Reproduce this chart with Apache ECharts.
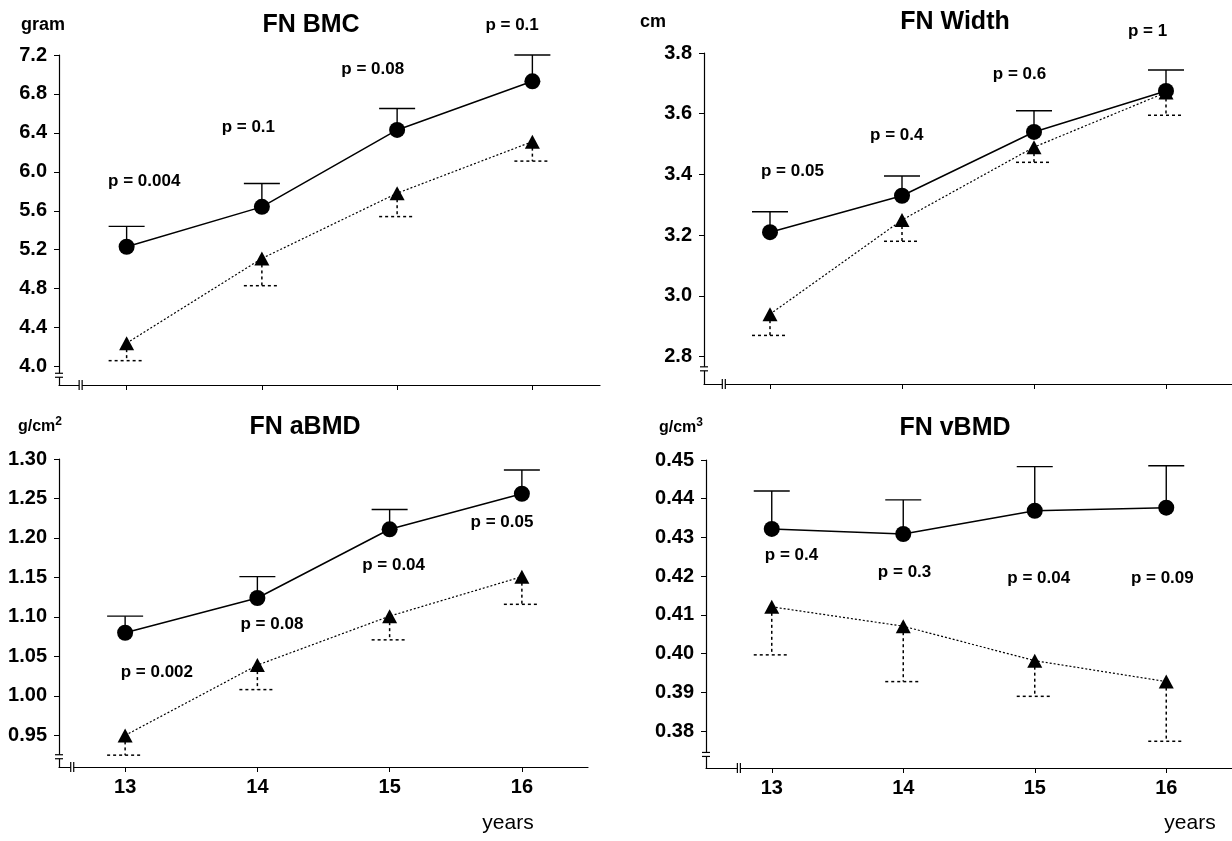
<!DOCTYPE html>
<html>
<head>
<meta charset="utf-8">
<script src="https://cdn.jsdelivr.net/npm/echarts@6/dist/echarts.min.js"></script>
<style>
  html, body { margin: 0; padding: 0; background: #fff; }
  #chart { width: 1232px; height: 841px; }
</style>
</head>
<body>
<div id="chart"></div>
<script>
// ages (x axis)
var years = [13, 14, 15, 16];

// FN BMC, gram
var bmcCircle = [5.23, 5.64, 6.43, 6.93];
var bmcCircleUp = [5.44, 5.88, 6.65, 7.20];
var bmcTriangle = [4.24, 5.11, 5.78, 6.31];
var bmcTriangleLow = [4.06, 4.83, 5.54, 6.11];
var bmcP = ['p = 0.004', 'p = 0.1', 'p = 0.08', 'p = 0.1'];
var bmcTicks = [4.0, 4.4, 4.8, 5.2, 5.6, 6.0, 6.4, 6.8, 7.2];

// FN Width, cm
var widthCircle = [3.21, 3.33, 3.54, 3.675];
var widthCircleUp = [3.277, 3.395, 3.61, 3.744];
var widthTriangle = [2.94, 3.25, 3.49, 3.67];
var widthTriangleLow = [2.87, 3.18, 3.44, 3.595];
var widthP = ['p = 0.05', 'p = 0.4', 'p = 0.6', 'p = 1'];
var widthTicks = [2.8, 3.0, 3.2, 3.4, 3.6, 3.8];

// FN aBMD, g/cm2
var abmdCircle = [1.080, 1.124, 1.211, 1.256];
var abmdCircleUp = [1.101, 1.151, 1.236, 1.286];
var abmdTriangle = [0.950, 1.039, 1.101, 1.151];
var abmdTriangleLow = [0.925, 1.008, 1.071, 1.116];
var abmdP = ['p = 0.002', 'p = 0.08', 'p = 0.04', 'p = 0.05'];
var abmdTicks = [0.95, 1.00, 1.05, 1.10, 1.15, 1.20, 1.25, 1.30];

// FN vBMD, g/cm3
var vbmdCircle = [0.4322, 0.4309, 0.4369, 0.4377];
var vbmdCircleUp = [0.4420, 0.4397, 0.4483, 0.4485];
var vbmdTriangle = [0.4121, 0.4071, 0.3982, 0.3928];
var vbmdTriangleLow = [0.3997, 0.3928, 0.3890, 0.3774];
var vbmdP = ['p = 0.4', 'p = 0.3', 'p = 0.04', 'p = 0.09'];
var vbmdTicks = [0.38, 0.39, 0.40, 0.41, 0.42, 0.43, 0.44, 0.45];

var FONT = "'Liberation Sans', Arial, Helvetica, sans-serif";

// one config per panel
var panels = [
  { grid: {left: 59, top: 55, right: 632, bottom: 456}, min: 3.81, max: 7.2, ticks: bmcTicks, dec: 1,
    circle: bmcCircle, up: bmcCircleUp, tri: bmcTriangle, low: bmcTriangleLow, p: bmcP,
    pAt: [[13.13, 5.90], [13.90, 6.46], [14.82, 7.05], [15.85, 7.50]],
    brk: [12.66, 3.91], xLabels: false },
  { grid: {left: 704, top: 53, right: -12, bottom: 457}, min: 2.71, max: 3.8, ticks: widthTicks, dec: 1,
    circle: widthCircle, up: widthCircleUp, tri: widthTriangle, low: widthTriangleLow, p: widthP,
    pAt: [[13.17, 3.41], [13.96, 3.53], [14.89, 3.73], [15.86, 3.87]],
    brk: [12.65, 2.76], xLabels: false },
  { grid: {left: 59, top: 459, right: 644, bottom: 74}, min: 0.91, max: 1.30, ticks: abmdTicks, dec: 2,
    circle: abmdCircle, up: abmdCircleUp, tri: abmdTriangle, low: abmdTriangleLow, p: abmdP,
    pAt: [[13.24, 1.030], [14.11, 1.091], [15.03, 1.165], [15.85, 1.220]],
    brk: [12.60, 0.923], xLabels: true },
  { grid: {left: 706, top: 460, right: -21, bottom: 73}, min: 0.3705, max: 0.45, ticks: vbmdTicks, dec: 2,
    circle: vbmdCircle, up: vbmdCircleUp, tri: vbmdTriangle, low: vbmdTriangleLow, p: vbmdP,
    pAt: [[13.15, 0.4254], [14.01, 0.4209], [15.03, 0.4194], [15.97, 0.4195]],
    brk: [12.75, 0.374], xLabels: true }
];

function pairs(vals) {
  return years.map(function (y, k) { return [y, vals[k]]; });
}

function errBar(i, mean, bound, dashed) {
  return {
    type: 'custom', xAxisIndex: i, yAxisIndex: i, silent: true, z: 1,
    data: years.map(function (y, k) { return [y, mean[k], bound[k]]; }),
    renderItem: function (params, api) {
      var a = api.coord([api.value(0), api.value(1)]);
      var b = api.coord([api.value(0), api.value(2)]);
      var st = {stroke: '#000', lineWidth: dashed ? 1.5 : 1.4, lineDash: dashed ? [3, 3] : null};
      return {type: 'group', children: [
        {type: 'line', shape: {x1: a[0], y1: a[1], x2: b[0], y2: b[1]}, style: st},
        {type: 'line', shape: {x1: b[0] - 18, y1: b[1], x2: b[0] + 18, y2: b[1]}, style: st}
      ]};
    }
  };
}

var grids = [], xAxes = [], yAxes = [], series = [];
panels.forEach(function (c, i) {
  grids.push(c.grid);
  xAxes.push({
    type: 'value', gridIndex: i, min: 12.5, max: 16.5,
    splitLine: {show: false},
    axisLine: {lineStyle: {color: '#000', width: 1.2}},
    axisTick: {show: true, length: 5, customValues: years, lineStyle: {color: '#000'}},
    axisLabel: {show: c.xLabels, customValues: years, margin: 10, color: '#000',
      fontFamily: FONT, fontWeight: 'bold', fontSize: 20}
  });
  yAxes.push({
    type: 'value', gridIndex: i, min: c.min, max: c.max,
    splitLine: {show: false},
    axisLine: {show: true, lineStyle: {color: '#000', width: 1.2}},
    axisTick: {show: true, length: 5, customValues: c.ticks, lineStyle: {color: '#000'}},
    axisLabel: {customValues: c.ticks, margin: 12, color: '#000',
      fontFamily: FONT, fontWeight: 'bold', fontSize: 20,
      formatter: function (v) { return v.toFixed(c.dec); }}
  });
  series.push(errBar(i, c.circle, c.up, false));
  series.push(errBar(i, c.tri, c.low, true));
  series.push({
    type: 'line', xAxisIndex: i, yAxisIndex: i, z: 3, silent: true,
    data: pairs(c.tri), symbol: 'triangle', symbolSize: [15, 14],
    itemStyle: {color: '#000'}, lineStyle: {color: '#000', width: 1.2, type: [2, 2]}
  });
  series.push({
    type: 'line', xAxisIndex: i, yAxisIndex: i, z: 4, silent: true,
    data: pairs(c.circle), symbol: 'circle', symbolSize: 16,
    itemStyle: {color: '#000'}, lineStyle: {color: '#000', width: 1.5}
  });
  // p values
  series.push({
    type: 'custom', xAxisIndex: i, yAxisIndex: i, silent: true, z: 5, clip: false,
    data: c.pAt.map(function (d, k) { return [d[0], d[1], k]; }),
    renderItem: function (params, api) {
      var pt = api.coord([api.value(0), api.value(1)]);
      return {type: 'text', x: pt[0], y: pt[1], style: {
        text: c.p[api.value(2)], fill: '#000', align: 'center', verticalAlign: 'middle',
        font: 'bold 17px ' + FONT}};
    }
  });
  // axis break marks
  series.push({
    type: 'custom', xAxisIndex: i, yAxisIndex: i, silent: true, z: 6, clip: false,
    data: [[c.brk[0], c.brk[1]]],
    renderItem: function (params, api) {
      var x0 = api.coord([12.5, api.value(1)]);
      var xb = api.coord([api.value(0), c.min]);
      var st = {stroke: '#000', lineWidth: 1.2};
      return {type: 'group', children: [
        {type: 'rect', shape: {x: x0[0] - 2, y: x0[1] - 2, width: 4, height: 4}, style: {fill: '#fff'}},
        {type: 'line', shape: {x1: x0[0] - 4, y1: x0[1] - 2, x2: x0[0] + 4, y2: x0[1] - 2}, style: st},
        {type: 'line', shape: {x1: x0[0] - 4, y1: x0[1] + 2, x2: x0[0] + 4, y2: x0[1] + 2}, style: st},
        {type: 'rect', shape: {x: xb[0] - 1.5, y: xb[1] - 2, width: 3, height: 4}, style: {fill: '#fff'}},
        {type: 'line', shape: {x1: xb[0] - 1.5, y1: xb[1] - 5, x2: xb[0] - 1.5, y2: xb[1] + 5}, style: st},
        {type: 'line', shape: {x1: xb[0] + 1.5, y1: xb[1] - 5, x2: xb[0] + 1.5, y2: xb[1] + 5}, style: st}
      ]};
    }
  });
});

function label(text, x, y, size, weight, align) {
  return {type: 'text', x: x, y: y, silent: true, style: {
    text: text, fill: '#000', align: align || 'center', verticalAlign: 'middle',
    font: weight + ' ' + size + 'px ' + FONT}};
}
function unitSup(base, sup, x, y) {
  return {type: 'text', x: x, y: y, silent: true, style: {
    text: '{a|' + base + '}{b|' + sup + '}', fill: '#000', align: 'left', verticalAlign: 'middle',
    rich: {
      a: {font: 'bold 16px ' + FONT, fill: '#000'},
      b: {font: 'bold 12px ' + FONT, fill: '#000', padding: [0, 0, 10, 0]}
    }}};
}

var chart = echarts.init(document.getElementById('chart'));
chart.setOption({
  backgroundColor: '#fff',
  animation: false,
  grid: grids,
  xAxis: xAxes,
  yAxis: yAxes,
  series: series,
  graphic: [
    label('FN BMC', 311, 25, 25, 'bold'),
    label('FN Width', 955, 22, 25, 'bold'),
    label('FN aBMD', 305, 427, 25, 'bold'),
    label('FN vBMD', 955, 428, 25, 'bold'),
    label('gram', 21, 25, 18, 'bold', 'left'),
    label('cm', 640, 22, 18, 'bold', 'left'),
    unitSup('g/cm', '2', 18, 427),
    unitSup('g/cm', '3', 659, 428),
    label('years', 508, 823, 21, 'normal'),
    label('years', 1190, 823, 21, 'normal')
  ]
});
</script>
</body>
</html>
